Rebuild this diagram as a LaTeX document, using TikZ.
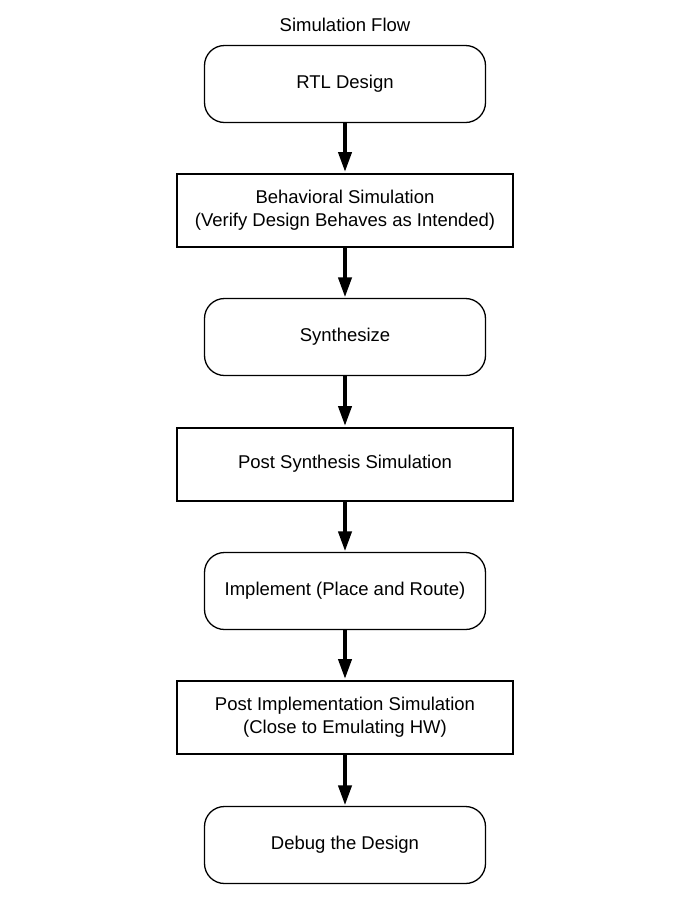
\documentclass[tikz,border=0pt]{standalone}
\usepackage{fontspec}
\setmainfont{Liberation Sans}
\usetikzlibrary{arrows.meta}
\begin{document}
\begin{tikzpicture}[x=1pt,y=-1pt,
  roundbox/.style={draw, line width=1.3pt, rounded corners=20pt, minimum width=281pt, minimum height=77pt, align=center, font=\fontsize{18.5}{22.5}\selectfont, inner sep=0pt},
  rectbox/.style={draw, line width=2pt, minimum width=336pt, minimum height=73pt, align=center, font=\fontsize{18.5}{22.5}\selectfont, inner sep=0pt},
  flow/.style={line width=4pt, -{Triangle[width=13pt,length=20pt]}, shorten >=0.5pt}]
\useasboundingbox (0,0) rectangle (692,906);
\node[font=\fontsize{18.5}{22}\selectfont] (title) at (345,25) {Simulation Flow};
\node[roundbox] (n1) at (345,84) {RTL Design};
\node[rectbox] (n2) at (345,210) {Behavioral Simulation\\(Verify Design Behaves as Intended)};
\node[roundbox] (n3) at (345,337) {Synthesize};
\node[rectbox] (n4) at (345,464) {Post Synthesis Simulation};
\node[roundbox] (n5) at (345,591) {Implement (Place and Route)};
\node[rectbox] (n6) at (345,717) {Post Implementation Simulation\\(Close to Emulating HW)};
\node[roundbox] (n7) at (345,845) {Debug the Design};
\draw[flow] (n1) -- (n2);
\draw[flow] (n2) -- (n3);
\draw[flow] (n3) -- (n4);
\draw[flow] (n4) -- (n5);
\draw[flow] (n5) -- (n6);
\draw[flow] (n6) -- (n7);
\end{tikzpicture}
\end{document}
